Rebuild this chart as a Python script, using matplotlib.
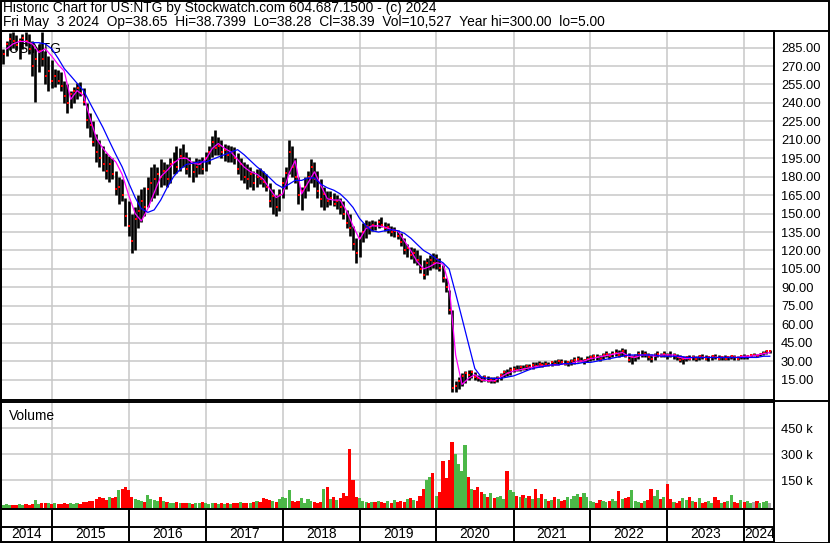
import numpy as np
import pandas as pd
import matplotlib
matplotlib.use("Agg")
import matplotlib.pyplot as plt
import matplotlib.dates as mdates
from matplotlib.lines import Line2D
from matplotlib.patches import Rectangle
from datetime import datetime

plt.rcParams['font.family'] = ['Liberation Sans', 'DejaVu Sans']

# semi-monthly bars, May 2014 .. May 2024
hi = [285, 284, 290, 297, 298, 295, 293, 296, 298, 296, 290, 285, 288, 298, 282, 278, 275, 268, 267, 265, 258, 255, 250, 253,
      256, 257, 252, 240, 232, 225, 215, 210, 205, 199, 197, 195, 185, 180, 178, 163, 160, 150, 155, 165, 170, 172, 180, 188,
      190, 188, 194, 192, 190, 195, 200, 205, 203, 207, 200, 196, 193, 195, 194, 196, 200, 205, 213, 218, 212, 210, 207, 206,
      205, 204, 199, 195, 192, 190, 188, 185, 186, 187, 185, 182, 175, 170, 165, 170, 180, 188, 210, 205, 195, 180, 172, 180,
      185, 194, 192, 185, 178, 172, 168, 168, 167, 165, 163, 160, 153, 150, 140, 130, 135, 142, 145, 144, 145, 144, 146, 147,
      143, 142, 140, 139, 137, 134, 130, 125, 123, 122, 120, 116, 112, 114, 116, 118, 117, 114, 108, 98, 88, 72, 14, 17,
      20, 22, 23, 23, 21, 19, 18, 19, 18, 17, 17, 18, 20, 23, 24, 25, 26, 27, 27, 27, 28, 28, 29, 29,
      30, 29, 30, 29, 30, 31, 32, 32, 31, 30, 32, 33, 34, 33, 32, 34, 35, 36, 36, 35, 37, 38, 37, 38,
      40, 39, 41, 40, 37, 35, 36, 38, 39, 38, 37, 36, 37, 38, 37, 38, 37, 38, 37, 36, 35, 34, 34, 35,
      35, 34, 35, 36, 35, 34, 35, 36, 35, 34, 35, 34, 35, 35, 34, 35, 36, 35, 36, 37, 36, 37, 38, 39, 39]
lo = [273, 272, 278, 283, 285, 283, 276, 284, 286, 280, 262, 241, 265, 270, 255, 250, 252, 253, 255, 250, 240, 232, 236, 240,
      243, 246, 238, 220, 212, 205, 192, 188, 185, 178, 176, 178, 165, 158, 160, 140, 132, 118, 120, 138, 143, 148, 155, 160,
      163, 165, 172, 173, 172, 175, 182, 183, 185, 188, 182, 180, 176, 180, 182, 182, 185, 190, 196, 198, 198, 195, 193, 192,
      192, 190, 182, 177, 175, 170, 172, 169, 172, 174, 172, 168, 155, 150, 148, 152, 163, 170, 182, 180, 175, 158, 153, 163,
      168, 175, 172, 163, 155, 153, 155, 157, 156, 154, 150, 146, 138, 132, 120, 110, 115, 127, 130, 133, 136, 137, 138, 139,
      136, 134, 132, 131, 129, 124, 117, 115, 113, 110, 108, 102, 97, 100, 104, 106, 105, 103, 94, 86, 68, 5, 5, 7,
      10, 12, 15, 16, 15, 14, 13, 14, 13, 12, 12, 13, 15, 17, 18, 19, 21, 22, 22, 23, 23, 24, 24, 25,
      25, 25, 26, 26, 26, 27, 27, 28, 27, 26, 27, 28, 29, 29, 28, 29, 30, 31, 31, 30, 32, 33, 32, 33,
      34, 33, 34, 33, 29, 28, 30, 32, 33, 33, 31, 29, 31, 33, 33, 33, 32, 33, 32, 31, 29, 28, 30, 31,
      31, 30, 31, 32, 31, 30, 31, 32, 31, 31, 31, 31, 32, 31, 31, 32, 32, 32, 33, 34, 33, 34, 35, 36, 37]
cl = [276, 280, 288, 292, 290, 287, 290, 293, 290, 284, 270, 276, 282, 276, 262, 266, 258, 262, 258, 254, 246, 240, 247, 250,
      252, 248, 241, 226, 222, 208, 200, 195, 190, 185, 190, 182, 170, 172, 165, 148, 140, 128, 146, 152, 160, 155, 170, 175,
      178, 182, 180, 185, 178, 190, 192, 188, 197, 195, 186, 190, 184, 188, 190, 186, 195, 200, 208, 203, 205, 200, 202, 198,
      200, 195, 186, 190, 180, 178, 182, 175, 180, 178, 176, 172, 160, 164, 155, 165, 175, 183, 200, 188, 180, 165, 168, 172,
      180, 188, 178, 168, 162, 166, 160, 163, 158, 160, 155, 150, 142, 138, 125, 118, 130, 135, 140, 138, 141, 140, 143, 141,
      138, 139, 135, 136, 132, 127, 120, 122, 116, 118, 112, 105, 100, 110, 112, 110, 113, 106, 98, 90, 72, 8, 10, 14,
      18, 20, 19, 21, 17, 16, 15, 17, 14, 15, 14, 16, 19, 21, 20, 23, 24, 23, 25, 24, 26, 25, 27, 26,
      28, 27, 28, 27, 29, 28, 30, 29, 28, 29, 30, 31, 32, 30, 31, 32, 33, 34, 33, 32, 35, 36, 34, 36,
      37, 35, 38, 34, 31, 33, 34, 36, 35, 36, 33, 32, 35, 36, 34, 36, 35, 34, 35, 33, 31, 32, 33, 32,
      33, 32, 34, 33, 32, 33, 34, 33, 32, 33, 32, 33, 34, 33, 32, 34, 33, 34, 35, 35, 34, 36, 37, 38, 38]
# volume in thousands
vol_k = [10, 8, 12, 6, 8, 7, 10, 8, 9, 7, 12, 35, 10, 15, 20, 18, 12, 15, 10, 12, 15, 12, 18, 14,
         15, 12, 22, 25, 30, 28, 40, 55, 45, 35, 50, 45, 55, 90, 100, 110, 95, 50, 40, 35, 30, 25, 65, 40,
         35, 30, 55, 30, 25, 20, 18, 22, 15, 18, 20, 15, 12, 15, 18, 22, 15, 12, 15, 18, 12, 15, 10, 15,
         12, 20, 15, 25, 18, 15, 20, 25, 30, 22, 45, 40, 35, 30, 25, 40, 50, 45, 90, 30, 25, 30, 45, 20,
         40, 30, 25, 20, 25, 100, 110, 40, 50, 35, 45, 75, 60, 330, 150, 50, 45, 30, 25, 20, 22, 25, 30, 25,
         20, 30, 20, 35, 25, 30, 25, 40, 45, 35, 30, 60, 100, 150, 170, 190, 60, 80, 260, 160, 265, 370, 300, 240,
         200, 350, 170, 100, 90, 110, 80, 70, 55, 75, 45, 50, 60, 40, 200, 90, 80, 60, 50, 65, 45, 60, 40, 100,
         45, 70, 40, 30, 35, 50, 40, 30, 35, 55, 40, 60, 70, 55, 75, 50, 30, 25, 20, 35, 30, 25, 30, 40,
         30, 85, 40, 45, 55, 90, 30, 25, 20, 30, 35, 98, 60, 95, 40, 50, 127, 40, 25, 20, 30, 45, 35, 50,
         30, 25, 45, 20, 25, 30, 20, 50, 35, 20, 25, 30, 63, 25, 20, 35, 25, 30, 20, 25, 30, 20, 25, 30, 20]

# moving averages, monthly readings
ma_short = [np.nan, 284, 288, 290, 290, 288, 281, 284, 278, 271, 266, 243, 250, 246, 228, 211, 203, 197, 192, 182,
            165, 150, 144, 154, 167, 180, 185, 191, 195, 195, 191, 190, 194, 203, 207, 203, 200, 194, 188, 184,
            182, 178, 170, 163, 166, 183, 193, 166, 175, 184, 173, 162, 161, 161, 152, 140, 129, 138, 140, 140,
            139, 137, 136, 128, 120, 111, 105, 107, 110, 109, 92, 35, 11, 16, 19, 15, 14, 14, 17, 20,
            22, 23, 24, 25, 26, 26, 27, 27, 28, 28, 30, 30, 32, 33, 34, 35, 36, 37, 34, 33,
            35, 35, 34, 35, 35, 35, 33, 32, 33, 33, 33, 33, 33, 33, 33, 33, 34, 34, 35, 36, 37]
ma_long = [np.nan, np.nan, np.nan, np.nan, np.nan, 289, 289, 288, 284, 276, 268, 262, 256, 250, 240, 230, 220, 209, 198, 188,
           175, 163, 154, 151, 153, 161, 171, 180, 186, 190, 191, 192, 192, 194, 196, 198, 200, 202, 198, 193,
           188, 184, 179, 174, 171, 174, 177, 177, 179, 179, 174, 171, 169, 166, 161, 155, 146, 140, 136, 135,
           136, 137, 136, 134, 130, 125, 120, 117, 113, 110, 105, 85, 65, 44, 24, 17, 16, 16, 16, 17,
           18, 20, 22, 24, 25, 26, 27, 27, 28, 28, 28, 29, 29, 30, 31, 32, 33, 34, 35, 35,
           35, 35, 35, 34, 34, 34, 34, 33, 33, 33, 33, 33, 33, 33, 33, 33, 33, 33, 33, 34, 34]

price_ticks = list(range(15, 300, 15))
vol_ticks_k = [150, 300, 450]
years = list(range(2014, 2025))

dates = mdates.date2num(pd.date_range("2014-05-01", periods=len(hi), freq="SMS").to_pydatetime())
ma_dates = mdates.date2num(pd.date_range("2014-05-01", periods=len(ma_short), freq="MS").to_pydatetime())
hi, lo, cl = np.array(hi), np.array(lo), np.array(cl)
vol = np.array(vol_k) * 1000.0

W, H = 830, 543
def box(x0, y0, x1, y1):
    return [x0 / W, 1 - y1 / H, (x1 - x0) / W, (y1 - y0) / H]

fig = plt.figure(figsize=(W / 100, H / 100), dpi=100)
grid_c = '#c8c8c8'
fs = 9.9
x_lim = (mdates.date2num(datetime(2014, 5, 5)), mdates.date2num(datetime(2024, 5, 21)))
year_starts = [mdates.date2num(datetime(y, 1, 1)) for y in years[1:]]

# price panel
ax_p = fig.add_axes(box(1, 31, 774, 400))
ax_p.set_xlim(x_lim)
ax_p.set_ylim(-1.6, 298.5)
for t in year_starts:
    ax_p.axvline(t, color=grid_c, lw=1.1, zorder=0)
for p in price_ticks:
    ax_p.axhline(p, color=grid_c, lw=1.1, zorder=0)
ax_p.text(8 / 773, 0.97, 'US:NTG', transform=ax_p.transAxes, fontsize=fs, va='top', ha='left', zorder=1)
ax_p.vlines(dates, lo, hi, color='black', lw=1.9, zorder=2)
ax_p.plot(dates + 3, cl, ls='none', marker='s', ms=1.6, mew=0, color='red', zorder=3)
ax_p.plot(ma_dates, ma_short, color='#ff00ff', lw=0.9, zorder=4)
ax_p.plot(ma_dates, ma_long, color='#0000ff', lw=0.9, zorder=4)
ax_p.yaxis.tick_right()
ax_p.set_yticks(price_ticks)
ax_p.set_yticklabels([f'{p:.2f}' for p in price_ticks])
ax_p.tick_params(axis='y', length=0, pad=5, labelsize=9.3)
ax_p.tick_params(axis='x', length=0, labelbottom=False)

# volume panel
ax_v = fig.add_axes(box(1, 402, 774, 509), sharex=ax_p)
vfloor = -17000
ax_v.set_ylim(vfloor, 600000)
for t in year_starts:
    ax_v.axvline(t, color=grid_c, lw=1.1, zorder=0)
for v in vol_ticks_k:
    ax_v.axhline(v * 1000, color=grid_c, lw=1.1, zorder=0)
chg = np.diff(cl, prepend=cl[0])
vcols = np.where(chg > 0, '#4cb848', np.where(chg < 0, '#ff0000', '#a8a8a8'))
ax_v.bar(dates, vol - vfloor, bottom=vfloor, width=15, color=vcols, align='center', zorder=2)
ax_v.text(8 / 773, 0.93, 'Volume', transform=ax_v.transAxes, fontsize=fs, va='top', ha='left')
ax_v.yaxis.tick_right()
ax_v.set_yticks([v * 1000 for v in vol_ticks_k])
ax_v.set_yticklabels([f'{v} k' for v in vol_ticks_k])
ax_v.tick_params(axis='y', length=0, pad=5, labelsize=9.3)
ax_v.tick_params(axis='x', length=0, labelbottom=False)

# year strip
ax_y = fig.add_axes(box(1, 509, 774, 542), sharex=ax_p)
ax_y.set_ylim(0, 1)
ax_y.axhline(15 / 33, color='black', lw=1.4)
for t in year_starts:
    ax_y.axvline(t, color='black', lw=1.4)
edges = [x_lim[0]] + year_starts + [x_lim[1]]
for i, y in enumerate(years):
    ax_y.text((edges[i] + edges[i + 1]) / 2, 7.5 / 33, str(y), ha='center', va='center', fontsize=fs)
ax_y.set_yticks([])
ax_y.tick_params(axis='x', length=0, labelbottom=False)

for ax in (ax_p, ax_v, ax_y):
    for s in ax.spines.values():
        s.set_color('black')
        s.set_linewidth(1.4)

# header and outer frame
fig.text(3 / W, 1 - 8 / H, 'Historic Chart for US:NTG by Stockwatch.com 604.687.1500 - (c) 2024',
         fontsize=fs, va='center', ha='left')
fig.text(3 / W, 1 - 22 / H,
         'Fri May  3 2024  Op=38.65  Hi=38.7399  Lo=38.28  Cl=38.39  Vol=10,527  Year hi=300.00  lo=5.00',
         fontsize=fs, va='center', ha='left')
fig.add_artist(Line2D([0, 1], [1 - 30.5 / H, 1 - 30.5 / H], color='black', lw=1.4))
fig.add_artist(Line2D([774 / W, 1], [1 - 400.5 / H, 1 - 400.5 / H], color='black', lw=1.4))
fig.add_artist(Rectangle((0.5 / W, 0.5 / H), 828.5 / W, 542 / H, fill=False, ec='black', lw=1.4,
                         transform=fig.transFigure))

fig.savefig('out.png', dpi=100)
